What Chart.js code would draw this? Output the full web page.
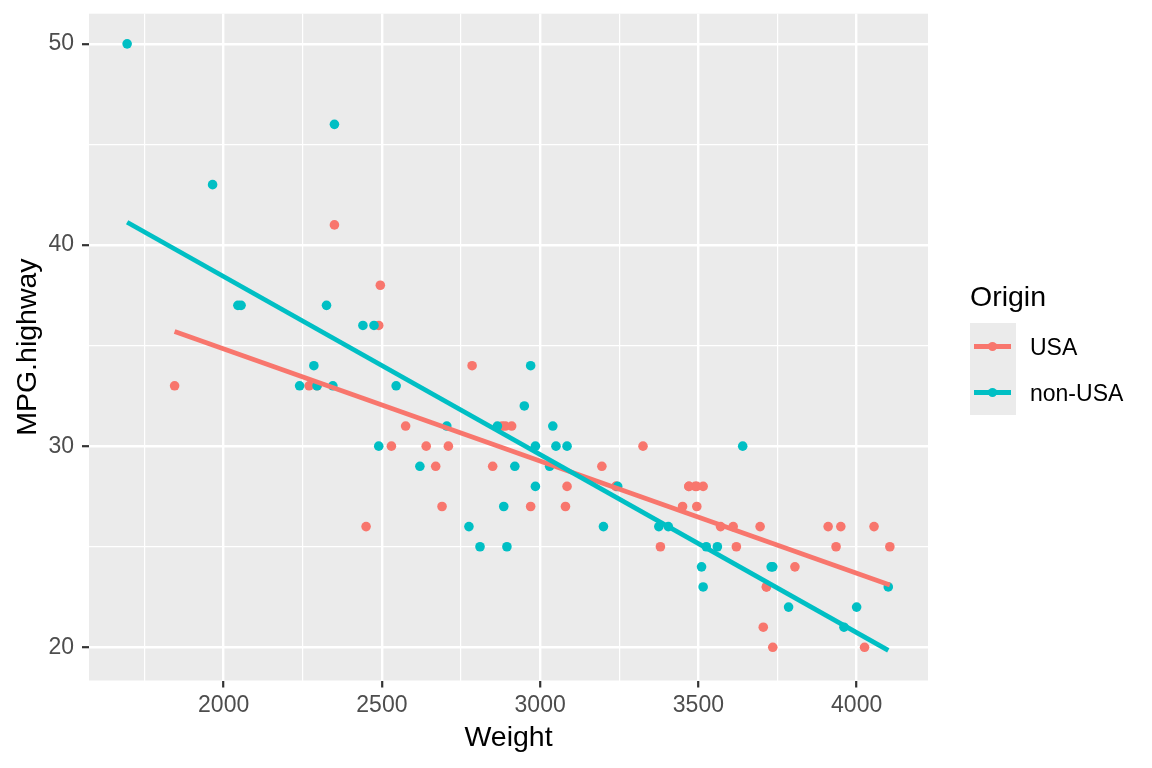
<!DOCTYPE html>
<html>
<head>
<meta charset="utf-8">
<script src="https://cdn.jsdelivr.net/npm/chart.js@4.4.0/dist/chart.umd.min.js"></script>
<style>
  body { margin: 0; background: #ffffff; }
  #wrap { position: relative; width: 1152px; height: 768px; font-family: 'Liberation Sans', Arial, sans-serif; }
  #chart { position: absolute; left: 0; top: 0; }
  .ltitle { position: absolute; left: 970px; top: 281.6px; font-size: 28.5px; line-height: 1; color: #000; white-space: nowrap; }
  .lkeybg { position: absolute; left: 970px; top: 323px; width: 46px; height: 92px; background: #EBEBEB; }
  .lline { position: absolute; height: 4.7px; width: 37px; left: 974px; }
  .ldot { position: absolute; width: 9.6px; height: 9.6px; border-radius: 50%; left: 987.9px; }
  .llabel { position: absolute; left: 1030px; font-size: 23px; line-height: 1; color: #000; white-space: nowrap; }
</style>
</head>
<body>
<div id="wrap">
  <canvas id="chart" width="1152" height="768"></canvas>
  <div class="ltitle">Origin</div>
  <div class="lkeybg"></div>
  <div id="legendKeys"></div>
</div>
<script>
// Cars93: Weight vs MPG.highway, split by Origin
const seriesNames = ['USA', 'non-USA'];
const seriesColors = ['#F8766D', '#00BFC4'];

const usaWeight = [2880, 3470, 4105, 3495, 3620, 3935, 2490, 2785, 3240, 3195, 3715, 4025,
  3910, 3380, 3515, 3085, 3570, 2270, 2670, 2970, 3705, 3080, 3805, 2295, 3490, 1845,
  2530, 2690, 2850, 2710, 3735, 3325, 3950, 3695, 4055, 2450, 3610, 2910, 2890, 3715,
  3470, 2640, 2350, 2575, 3240, 3450, 3495, 2495];
const usaMpg = [31, 28, 25, 27, 25, 25, 36, 34, 28, 29, 23, 20,
  26, 25, 28, 28, 26, 33, 29, 27, 21, 27, 24, 33, 28, 33,
  30, 27, 29, 30, 20, 30, 26, 26, 26, 26, 26, 31, 31, 23,
  28, 30, 41, 31, 28, 27, 28, 38];

const nonUsaWeight = [2705, 3560, 3375, 3405, 3640, 1695, 2475, 2865, 2350, 3040, 2345, 2620,
  2285, 2885, 4000, 3510, 3515, 2325, 2440, 2970, 3735, 2895, 2920, 3525, 2295, 3730,
  2545, 3050, 4100, 3200, 2775, 2045, 2490, 3085, 1965, 2055, 2950, 3030, 3785, 2240,
  3960, 2985, 2810, 2985, 3245];
const nonUsaMpg = [31, 25, 26, 26, 30, 50, 36, 31, 46, 31, 33, 29,
  34, 27, 22, 24, 23, 37, 36, 34, 24, 25, 29, 25, 33, 24,
  33, 30, 23, 26, 26, 37, 30, 30, 43, 37, 32, 29, 22, 33,
  21, 30, 25, 28, 28];

// fitted lm lines, end points
const usaFitWeight = [1845, 4105];
const usaFitMpg = [35.7, 23.1];
const nonUsaFitWeight = [1695, 4100];
const nonUsaFitMpg = [41.13, 19.85];

// axes
const xRange = [1574.5, 4225.5];
const yRange = [18.35, 51.5];
const xTicks = [2000, 2500, 3000, 3500, 4000];
const xMinor = [1750, 2250, 2750, 3250, 3750];
const yTicks = [20, 30, 40, 50];
const yMinor = [25, 35, 45];

function toPoints(xs, ys) {
  return xs.map((x, i) => ({ x: x, y: ys[i] }));
}

const panelBg = {
  id: 'panelBg',
  beforeDraw(chart) {
    const { ctx, chartArea } = chart;
    ctx.save();
    ctx.fillStyle = '#EBEBEB';
    ctx.fillRect(chartArea.left, chartArea.top, chartArea.right - chartArea.left, chartArea.bottom - chartArea.top);
    ctx.restore();
  }
};

function axisOptions(range, major, minor, title, isX) {
  const all = major.concat(minor).sort((a, b) => a - b);
  return {
    type: 'linear',
    min: range[0],
    max: range[1],
    afterBuildTicks: scale => { scale.ticks = all.map(v => ({ value: v })); },
    afterFit: scale => {
      // fixed axis boxes so the panel sits where ggplot put it
      if (isX) scale.height = 87.5; else scale.width = 89;
      scale.paddingTop = 0;
      scale.paddingBottom = 0;
      scale.paddingLeft = 0;
      scale.paddingRight = 0;
    },
    border: { display: false },
    grid: {
      color: '#FFFFFF',
      lineWidth: c => major.includes(c.tick.value) ? 2.4 : 1.2,
      drawTicks: true,
      tickLength: 7,
      tickWidth: 2.2,
      tickColor: c => major.includes(c.tick.value) ? '#333333' : 'rgba(0,0,0,0)'
    },
    ticks: {
      autoSkip: false,
      maxRotation: 0,
      minRotation: 0,
      padding: isX ? 4.5 : 8,
      color: '#4D4D4D',
      font: { size: 23 },
      callback: v => major.includes(v) ? String(v) : ''
    },
    title: {
      display: true,
      text: title,
      color: '#000000',
      font: { size: 28.5 },
      padding: isX ? { top: 0, bottom: 12.5 } : { top: 11.3, bottom: 0 }
    }
  };
}

Chart.defaults.font.family = "'Liberation Sans', Arial, sans-serif";

new Chart(document.getElementById('chart'), {
  type: 'scatter',
  data: {
    datasets: [
      {
        label: seriesNames[1] + ' fit',
        data: toPoints(nonUsaFitWeight, nonUsaFitMpg),
        showLine: true,
        borderColor: seriesColors[1],
        borderWidth: 4.7,
        pointRadius: 0,
        pointHoverRadius: 0
      },
      {
        label: seriesNames[0] + ' fit',
        data: toPoints(usaFitWeight, usaFitMpg),
        showLine: true,
        borderColor: seriesColors[0],
        borderWidth: 4.7,
        pointRadius: 0,
        pointHoverRadius: 0
      },
      {
        label: seriesNames[1],
        data: toPoints(nonUsaWeight, nonUsaMpg),
        backgroundColor: seriesColors[1],
        borderWidth: 0,
        pointRadius: 4.8,
        pointHoverRadius: 4.8
      },
      {
        label: seriesNames[0],
        data: toPoints(usaWeight, usaMpg),
        backgroundColor: seriesColors[0],
        borderWidth: 0,
        pointRadius: 4.8,
        pointHoverRadius: 4.8
      }
    ]
  },
  options: {
    responsive: false,
    animation: false,
    devicePixelRatio: 1,
    layout: { padding: { top: 13.7, right: 224, bottom: 0, left: 0 } },
    plugins: {
      legend: { display: false },
      tooltip: { enabled: false }
    },
    scales: {
      x: axisOptions(xRange, xTicks, xMinor, 'Weight', true),
      y: axisOptions(yRange, yTicks, yMinor, 'MPG.highway', false)
    }
  },
  plugins: [panelBg]
});

// legend keys (line + point, like the ggplot guide)
const keys = document.getElementById('legendKeys');
seriesNames.forEach((name, i) => {
  const cy = 346.3 + i * 46;
  const line = document.createElement('div');
  line.className = 'lline';
  line.style.top = (cy - 2.35) + 'px';
  line.style.background = seriesColors[i];
  const dot = document.createElement('div');
  dot.className = 'ldot';
  dot.style.top = (cy - 4.8) + 'px';
  dot.style.background = seriesColors[i];
  const label = document.createElement('div');
  label.className = 'llabel';
  label.style.top = (cy + 8.7 - 19.5) + 'px';
  label.textContent = name;
  keys.appendChild(line);
  keys.appendChild(dot);
  keys.appendChild(label);
});
</script>
</body>
</html>
